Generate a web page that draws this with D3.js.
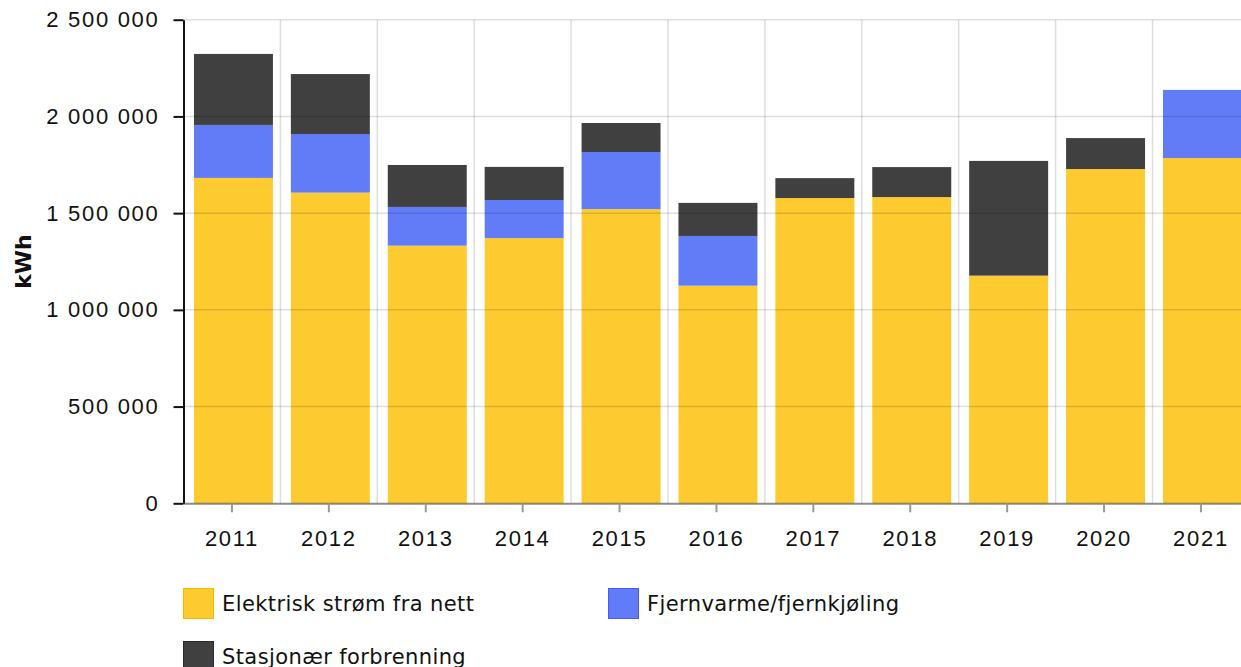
<!DOCTYPE html>
<html>
<head>
<meta charset="utf-8">
<script src="https://cdn.jsdelivr.net/npm/d3@7"></script>
<style>
  html, body { margin: 0; padding: 0; background: #fff; overflow: hidden; }
  svg { display: block; font-family: "DejaVu Sans", Verdana, sans-serif; }
</style>
</head>
<body>
<svg id="chart" width="1241" height="667"></svg>
<script>
// Energy use per source, kWh
const years = ["2011", "2012", "2013", "2014", "2015", "2016", "2017", "2018", "2019", "2020", "2021"];
const elektrisk = [1682000, 1606000, 1332000, 1371000, 1521000, 1125000, 1578000, 1583000, 1177000, 1728000, 1785000];
const fjernvarme = [274000, 303000, 200000, 197000, 295000, 257000, 0, 0, 0, 0, 352000];
const stasjonaer = [367000, 310000, 217000, 171000, 150000, 171000, 103000, 155000, 593000, 160000, 0];
const seriesNames = ["Elektrisk strøm fra nett", "Fjernvarme/fjernkjøling", "Stasjonær forbrenning"];
const yTicks = [0, 500000, 1000000, 1500000, 2000000, 2500000];

const C = { el: "#fdca30", fj: "#627cf8", st: "#404040" };
const colors = [C.el, C.fj, C.st];
const strokes = ["#f5b800", "#3f5ef0", "#2a2a2a"];

const margin = { top: 19.7, left: 183.5 };
const innerH = 483.6;
const step = 96.9;
const innerW = step * years.length;

const svg = d3.select("#chart");
const g = svg.append("g").attr("transform", `translate(${margin.left},${margin.top})`);

// one cell per year; bars sit a bit right of the cell start
const x = d3.scaleBand().domain(years).range([0, innerW]).padding(0);
const y = d3.scaleLinear().domain([0, 2500000]).range([innerH, 0]);
const barOff = x.bandwidth() * 0.108;
const barW = x.bandwidth() * 0.815;

const table = years.map((yr, i) => ({ year: yr, el: elektrisk[i], fj: fjernvarme[i], st: stasjonaer[i] }));
const stacked = d3.stack().keys(["el", "fj", "st"])(table);

// Bars
g.selectAll(".layer").data(stacked).enter().append("g")
  .attr("fill", (d, i) => colors[i])
  .selectAll("rect").data(d => d).enter().append("rect")
  .attr("x", d => x(d.data.year) + barOff)
  .attr("y", d => y(d[1]))
  .attr("width", barW)
  .attr("height", d => y(d[0]) - y(d[1]));

// Gridlines (drawn over bars, faint)
const fmt = v => d3.format(",")(v).replace(/,/g, " ");
g.append("g").selectAll("line").data(yTicks.slice(1)).enter().append("line")
  .attr("x1", 0).attr("x2", innerW)
  .attr("y1", d => y(d)).attr("y2", d => y(d))
  .attr("stroke", "#000").attr("stroke-opacity", 0.13).attr("stroke-width", 1.5);
g.append("g").selectAll("line").data(years.slice(1)).enter().append("line")
  .attr("x1", d => x(d)).attr("x2", d => x(d))
  .attr("y1", 0).attr("y2", innerH)
  .attr("stroke", "#000").attr("stroke-opacity", 0.13).attr("stroke-width", 1.5);

// X axis
const xAxis = g.append("g").attr("transform", `translate(0,${innerH})`)
  .call(d3.axisBottom(x).tickSize(9).tickPadding(18).tickSizeOuter(0));
xAxis.select(".domain").attr("stroke", "#000").attr("stroke-opacity", 0.45).attr("stroke-width", 2);
xAxis.selectAll(".tick line").attr("stroke", "#999").attr("stroke-width", 2);
xAxis.selectAll(".tick text").style("font-size", "22px").style("letter-spacing", "1.7px").style("fill", "#111");

// Y axis
const yAxis = g.append("g")
  .call(d3.axisLeft(y).tickValues(yTicks).tickFormat(fmt).tickSize(10).tickPadding(14).tickSizeOuter(0));
yAxis.select(".domain").attr("stroke", "#111").attr("stroke-width", 2);
yAxis.selectAll(".tick line").attr("stroke", "#111").attr("stroke-width", 2);
yAxis.selectAll(".tick text").style("font-size", "22px").style("letter-spacing", "1.7px").style("fill", "#111");

svg.append("text")
  .attr("transform", `translate(31,${margin.top + innerH / 2}) rotate(-90)`)
  .attr("text-anchor", "middle")
  .style("font-size", "22px").style("font-weight", "bold").style("fill", "#111")
  .text("kWh");

// Legend
const legendPos = [[183, 588], [608, 588], [183, 641]];
const lg = svg.append("g").selectAll("g").data(seriesNames).enter().append("g")
  .attr("transform", (d, i) => `translate(${legendPos[i][0]},${legendPos[i][1]})`);
lg.append("rect")
  .attr("x", 0.5).attr("y", 0.5).attr("width", 30).attr("height", 30)
  .attr("fill", (d, i) => colors[i]).attr("stroke", (d, i) => strokes[i]).attr("stroke-width", 1);
lg.append("text")
  .attr("x", 39).attr("y", 23)
  .style("font-size", "21px").style("letter-spacing", "0.4px").style("fill", "#111")
  .text(d => d);
</script>
</body>
</html>
